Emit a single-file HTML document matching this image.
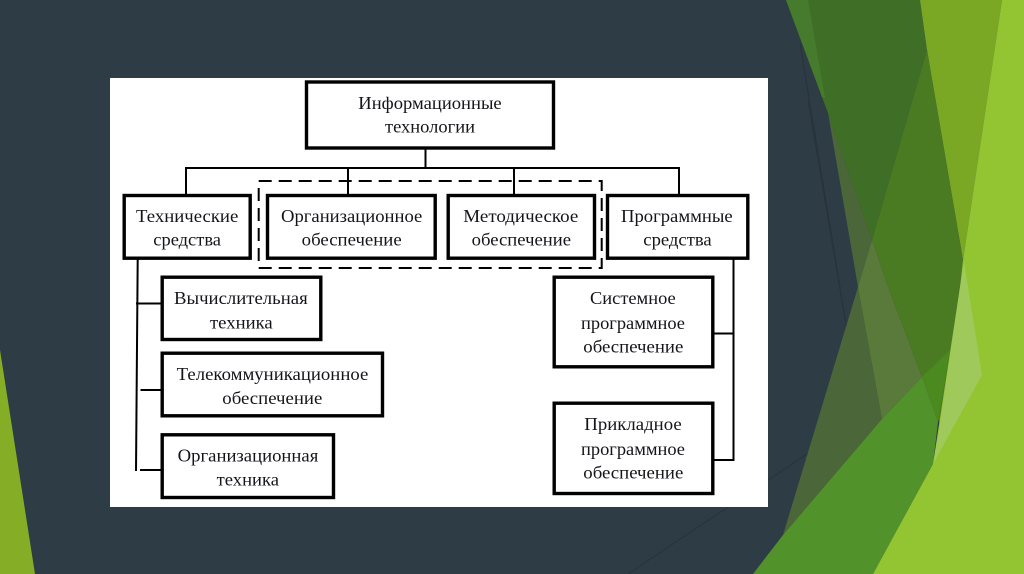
<!DOCTYPE html>
<html lang="ru">
<head>
<meta charset="utf-8">
<title>Информационные технологии</title>
<style>
html,body{margin:0;padding:0;width:1024px;height:574px;overflow:hidden;background:#2d3c45}
svg{display:block}
text{font-family:"Liberation Serif",serif;font-size:18px;fill:#14141a}
.d{filter:blur(.35px)}
</style>
</head>
<body>
<svg xmlns="http://www.w3.org/2000/svg" width="1024" height="574" viewBox="0 0 1024 574">
<rect width="1024" height="574" fill="#2d3c45"/>
<!-- left accent -->
<polygon points="0,350 35,574 0,574" fill="#85ae26"/>
<!-- faint lines -->
<g stroke="#262f38" stroke-width="1" fill="none" opacity=".7">
<line x1="800" y1="43" x2="840" y2="287"/>
<line x1="808" y1="100" x2="847" y2="330"/>
<line x1="628" y1="574" x2="807" y2="454"/>
</g>
<!-- right polygons -->
<polygon points="786,0 920,0 927,50 872,240 828,113" fill="#3f6f27"/>
<polygon points="786,0 808,0 825,98 822,97" fill="#467a2c"/>
<polygon points="920,0 1002,0 963,260 927,50" fill="#7aa824"/>
<polygon points="927,50 963,260 960,287 940,424 922,377 888,287 872,240" fill="#4a7a22"/>
<polygon points="828,113 872,240 858,287" fill="#4b6638"/>
<polygon points="858,287 783,535 882,419" fill="#4b6638"/>
<polygon points="872,240 858,287 882,419 922,377 888,287" fill="#5a7a3c"/>
<polygon points="922,377 950,350 938,422" fill="#4a8a1e"/>
<polygon points="753,574 783,535 882,419 922,377 938,422 933,464 873,574" fill="#52922a"/>
<polygon points="1002,0 1024,0 1024,574 873,574 933,464 960,287 963,260" fill="#93c432"/>
<polygon points="960,287 964,262 982,375 933,464 940,424" fill="#a0c95c"/>
<!-- white panel -->
<rect x="110" y="78" width="658" height="429" fill="#fff"/>
<g class="d">
<!-- connectors -->
<g stroke="#000" stroke-width="2" fill="none">
<line x1="425.5" y1="149" x2="425.5" y2="168"/>
<polyline points="186,194 186,168 679,168 679,194"/>
<line x1="348" y1="168" x2="348" y2="194"/>
<line x1="514" y1="168" x2="514" y2="194"/>
<line x1="137.7" y1="259" x2="136" y2="471"/>
<line x1="136" y1="303.5" x2="161" y2="303.5"/>
<line x1="140.5" y1="390" x2="161" y2="390"/>
<line x1="140" y1="470" x2="165" y2="470"/>
<polyline points="733.5,259 733.5,460 714,460"/>
<line x1="714" y1="333.5" x2="733.5" y2="333.5"/>
</g>
<rect x="258.7" y="181" width="343" height="87" fill="none" stroke="#000" stroke-width="2" stroke-dasharray="13 7"/>
<!-- boxes -->
<g fill="#fff" stroke="#000" stroke-width="3.4">
<rect x="306.5" y="82" width="247" height="66"/>
<rect x="124.2" y="195.5" width="126" height="62.7"/>
<rect x="267.5" y="195.5" width="167.7" height="62.7"/>
<rect x="448.2" y="195.5" width="146.3" height="62.7"/>
<rect x="607.5" y="195.5" width="140.3" height="62.7"/>
<rect x="162.2" y="277.2" width="158.6" height="62.3"/>
<rect x="162.2" y="353.2" width="220.3" height="62.6"/>
<rect x="162.2" y="434.8" width="171.3" height="62.7"/>
<rect x="554.2" y="277.2" width="158.6" height="89.6"/>
<rect x="554.2" y="403.2" width="158.6" height="90.3"/>
</g>
<!-- labels -->
<text x="358.3" y="109" textLength="143.4" lengthAdjust="spacingAndGlyphs">Информационные</text>
<text x="385" y="132.5" textLength="90" lengthAdjust="spacingAndGlyphs">технологии</text>
<text x="136" y="222" textLength="102.3" lengthAdjust="spacingAndGlyphs">Технические</text>
<text x="153.3" y="245.7" textLength="67.7" lengthAdjust="spacingAndGlyphs">средства</text>
<text x="281" y="222" textLength="141.3" lengthAdjust="spacingAndGlyphs">Организационное</text>
<text x="301.7" y="245.7" textLength="100" lengthAdjust="spacingAndGlyphs">обеспечение</text>
<text x="463.3" y="222" textLength="115" lengthAdjust="spacingAndGlyphs">Методическое</text>
<text x="471.7" y="245.7" textLength="99.3" lengthAdjust="spacingAndGlyphs">обеспечение</text>
<text x="621" y="222" textLength="111.7" lengthAdjust="spacingAndGlyphs">Программные</text>
<text x="643.3" y="245.7" textLength="68.4" lengthAdjust="spacingAndGlyphs">средства</text>
<text x="174" y="304" textLength="133.7" lengthAdjust="spacingAndGlyphs">Вычислительная</text>
<text x="210" y="328.3" textLength="62.7" lengthAdjust="spacingAndGlyphs">техника</text>
<text x="176.7" y="380" textLength="191.6" lengthAdjust="spacingAndGlyphs">Телекоммуникационное</text>
<text x="222.3" y="404" textLength="100" lengthAdjust="spacingAndGlyphs">обеспечение</text>
<text x="177.7" y="461.3" textLength="140.6" lengthAdjust="spacingAndGlyphs">Организационная</text>
<text x="216.7" y="485.7" textLength="62.3" lengthAdjust="spacingAndGlyphs">техника</text>
<text x="590" y="304" textLength="85.7" lengthAdjust="spacingAndGlyphs">Системное</text>
<text x="581" y="329" textLength="104" lengthAdjust="spacingAndGlyphs">программное</text>
<text x="583.3" y="352.3" textLength="100" lengthAdjust="spacingAndGlyphs">обеспечение</text>
<text x="584.3" y="430" textLength="97.4" lengthAdjust="spacingAndGlyphs">Прикладное</text>
<text x="581" y="455" textLength="104" lengthAdjust="spacingAndGlyphs">программное</text>
<text x="583.3" y="478.3" textLength="100" lengthAdjust="spacingAndGlyphs">обеспечение</text>
</g>
</svg>
</body>
</html>
